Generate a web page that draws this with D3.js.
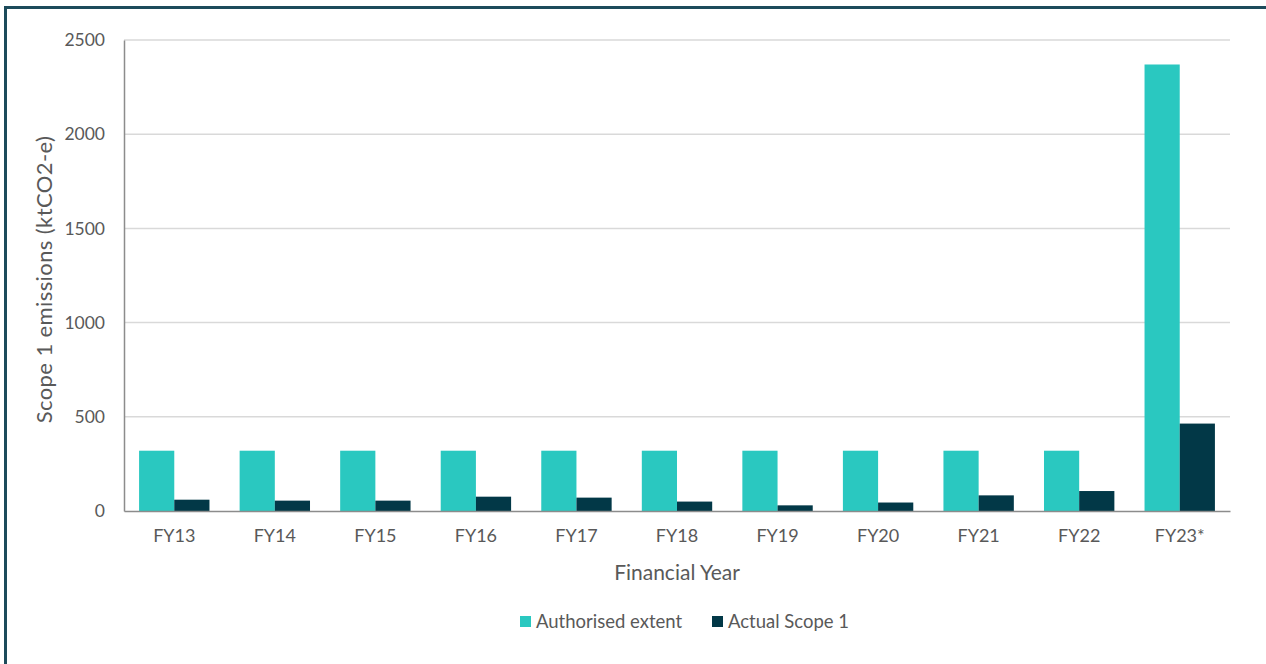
<!DOCTYPE html>
<html>
<head>
<meta charset="utf-8">
<script src="https://cdn.jsdelivr.net/npm/d3@7"></script>
<style>
  html, body { margin: 0; padding: 0; background: #fff; }
  svg { display: block; }
</style>
</head>
<body>
<svg id="chart" width="1266" height="664"></svg>
<script>
// Scope 1 emissions by financial year (ktCO2-e)
const categories = ["FY13", "FY14", "FY15", "FY16", "FY17", "FY18", "FY19", "FY20", "FY21", "FY22", "FY23*"];
const authorisedExtent = [320, 320, 320, 320, 320, 320, 320, 320, 320, 320, 2370];
const actualScope1 = [60, 55, 55, 76, 71, 50, 30, 45, 83, 106, 464];
const yTicks = [0, 500, 1000, 1500, 2000, 2500];
const seriesNames = ["Authorised extent", "Actual Scope 1"];
const seriesColors = ["#2ac8c0", "#023847"];

const svg = d3.select("#chart");
const font = "Lato, 'Open Sans', sans-serif";
const textColor = "#595959";

// outer frame
svg.append("rect")
  .attr("x", 5.5).attr("y", 7.5)
  .attr("width", 1300).attr("height", 700)
  .attr("fill", "none")
  .attr("stroke", "#1d4b5b")
  .attr("stroke-width", 3);

const plot = { left: 124, right: 1230, top: 40, bottom: 511 };

const x = d3.scaleBand()
  .domain(categories)
  .range([plot.left, plot.right])
  .paddingInner(0)
  .paddingOuter(0);

const groupWidth = x.bandwidth() * 0.7;
const xs = d3.scaleBand()
  .domain(seriesNames)
  .range([0, groupWidth]);

const y = d3.scaleLinear()
  .domain([0, 2500])
  .range([plot.bottom, plot.top]);

// gridlines
svg.append("g")
  .selectAll("line")
  .data(yTicks.filter(d => d > 0))
  .join("line")
  .attr("x1", plot.left).attr("x2", plot.right)
  .attr("y1", d => y(d)).attr("y2", d => y(d))
  .attr("stroke", "#d9d9d9")
  .attr("stroke-width", 1.5);

// bars
const rows = categories.map((c, i) => ({ cat: c, values: [authorisedExtent[i], actualScope1[i]] }));
const groups = svg.append("g")
  .selectAll("g")
  .data(rows)
  .join("g")
  .attr("transform", d => `translate(${x(d.cat) + (x.bandwidth() - groupWidth) / 2},0)`);

groups.selectAll("rect")
  .data(d => d.values.map((v, j) => ({ name: seriesNames[j], v, j })))
  .join("rect")
  .attr("x", d => xs(d.name))
  .attr("width", xs.bandwidth())
  .attr("y", d => y(d.v))
  .attr("height", d => y(0) - y(d.v))
  .attr("fill", d => seriesColors[d.j]);

// y axis
const yAxis = svg.append("g")
  .attr("transform", `translate(${plot.left},0)`)
  .call(d3.axisLeft(y).tickValues(yTicks).tickSize(0).tickPadding(19).tickFormat(d3.format("d")));
yAxis.select(".domain").attr("stroke", "#8c8c8c").attr("stroke-width", 1.5);
yAxis.selectAll("text")
  .attr("fill", textColor)
  .style("font-family", font)
  .style("font-size", "17.5px");

// x axis
const xAxis = svg.append("g")
  .attr("transform", `translate(0,${plot.bottom})`)
  .call(d3.axisBottom(x).tickSize(0).tickPadding(18));
xAxis.select(".domain").attr("stroke", "#8c8c8c").attr("stroke-width", 1.5);
xAxis.selectAll("text")
  .attr("fill", textColor)
  .style("font-family", font)
  .style("font-size", "18px");

// axis titles
svg.append("text")
  .attr("x", (plot.left + plot.right) / 2)
  .attr("y", 580)
  .attr("text-anchor", "middle")
  .attr("fill", textColor)
  .style("font-family", font)
  .style("font-size", "21px")
  .text("Financial Year");

svg.append("text")
  .attr("transform", `translate(52,${(plot.top + plot.bottom) / 2 + 4}) rotate(-90)`)
  .attr("text-anchor", "middle")
  .attr("fill", textColor)
  .style("font-family", font)
  .style("font-size", "22px")
  .style("letter-spacing", "0.4px")
  .text("Scope 1 emissions (ktCO2-e)");

// legend
const legendItems = [
  { name: seriesNames[0], color: seriesColors[0], x: 520 },
  { name: seriesNames[1], color: seriesColors[1], x: 712 }
];
const legend = svg.append("g");
const li = legend.selectAll("g").data(legendItems).join("g")
  .attr("transform", d => `translate(${d.x},616)`);
li.append("rect").attr("width", 11).attr("height", 11).attr("fill", d => d.color);
li.append("text")
  .attr("x", 16).attr("y", 12)
  .attr("fill", textColor)
  .style("font-family", font)
  .style("font-size", "18.5px")
  .text(d => d.name);
</script>
</body>
</html>
